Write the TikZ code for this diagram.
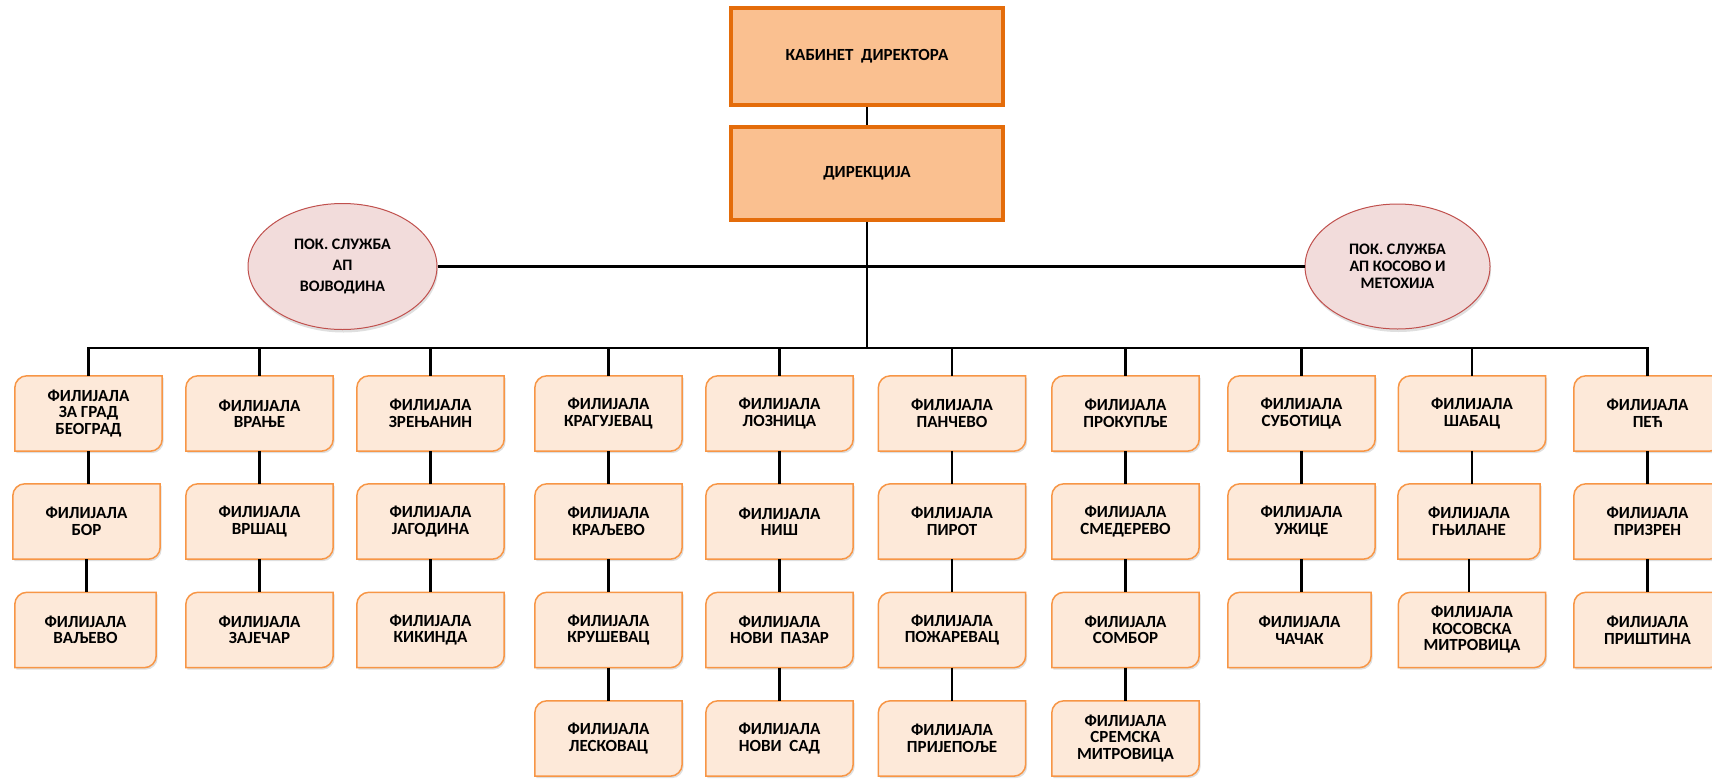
\documentclass[tikz,border=0pt]{standalone}
\usepackage{fontspec}
\setmainfont{Carlito}
\usetikzlibrary{shapes.geometric,shadows,backgrounds}
\definecolor{brfill}{HTML}{FDE9D9}
\definecolor{brdraw}{HTML}{F79646}
\definecolor{topfill}{HTML}{FAC090}
\definecolor{topdraw}{HTML}{E46C0A}
\definecolor{elfill}{HTML}{F2DCDB}
\definecolor{eldraw}{HTML}{C0504D}
\tikzset{
  brnode/.style={rectangle, minimum width=147pt, minimum height=75pt, inner sep=0pt, align=center,
    font=\fontsize{17}{16.5}\selectfont\bfseries},
  brbox/.style={fill=brfill, draw=brdraw, line width=1.5pt,
    drop shadow={shadow xshift=1.5pt, shadow yshift=-2pt, opacity=0.25}},
  topbox/.style={rectangle, fill=topfill, draw=topdraw, line width=3.5pt, minimum width=272pt,
    inner sep=0pt, font=\fontsize{17}{16.5}\selectfont\bfseries},
  ellnode/.style={ellipse, fill=elfill, draw=eldraw, line width=1pt, inner sep=0pt, align=center,
    drop shadow={shadow xshift=1pt, shadow yshift=-3pt, opacity=0.25}},
  conn/.style={line width=2.5pt, black}
}
\newcommand\branch[5][147]{%
  \node[brnode, minimum width=#1pt] (#2) at (#3,-#4) {#5};
  \begin{pgfonlayer}{background}
  \path[brbox] (#2.south west) -- ([yshift=-12pt]#2.north west)
     arc[start angle=180,end angle=90,radius=12pt] -- (#2.north east)
     -- ([yshift=12pt]#2.south east) arc[start angle=0,end angle=-90,radius=12pt] -- cycle;
  \end{pgfonlayer}}
\begin{document}
\begin{tikzpicture}[x=1pt,y=1pt]
\useasboundingbox (0,0) rectangle (1712,-779);
% top
\node[topbox, minimum height=97pt] (kab) at (867,-56.5) {КАБИНЕТ\ \ ДИРЕКТОРА};
\node[topbox, minimum height=93pt] (dir) at (867,-173.5) {ДИРЕКЦИЈА};
% ellipses
\node[ellnode, minimum width=189pt, minimum height=126pt,
  font=\fontsize{16}{21}\selectfont\bfseries] (vo) at (342.5,-266.5) {ПОК. СЛУЖБА\\АП\\ВОЈВОДИНА};
\node[ellnode, minimum width=185pt, minimum height=125pt,
  font=\fontsize{16}{17}\selectfont\bfseries] (km) at (1397.5,-266.5) {ПОК. СЛУЖБА\\АП КОСОВО И\\МЕТОХИЈА};
\coordinate (bus) at (867,-348);
% branches
\def\ra{413.5}\def\rb{521.5}\def\rc{630}\def\rd{738.5}
\branch{c1a}{88.5}{\ra}{ФИЛИЈАЛА\\ЗА ГРАД\\БЕОГРАД}
\branch{c1b}{86.5}{\rb}{ФИЛИЈАЛА\\БОР}
\branch[141]{c1c}{85.5}{\rc}{ФИЛИЈАЛА\\ВАЉЕВО}
\branch{c2a}{259.5}{\ra}{ФИЛИЈАЛА\\ВРАЊЕ}
\branch{c2b}{259.5}{\rb}{ФИЛИЈАЛА\\ВРШАЦ}
\branch{c2c}{259.5}{\rc}{ФИЛИЈАЛА\\ЗАЈЕЧАР}
\branch{c3a}{430.5}{\ra}{ФИЛИЈАЛА\\ЗРЕЊАНИН}
\branch{c3b}{430.5}{\rb}{ФИЛИЈАЛА\\ЈАГОДИНА}
\branch{c3c}{430.5}{\rc}{ФИЛИЈАЛА\\КИКИНДА}
\branch{c4a}{608.5}{\ra}{ФИЛИЈАЛА\\КРАГУЈЕВАЦ}
\branch{c4b}{608.5}{\rb}{ФИЛИЈАЛА\\КРАЉЕВО}
\branch{c4c}{608.5}{\rc}{ФИЛИЈАЛА\\КРУШЕВАЦ}
\branch{c4d}{608.5}{\rd}{ФИЛИЈАЛА\\ЛЕСКОВАЦ}
\branch{c5a}{779.5}{\ra}{ФИЛИЈАЛА\\ЛОЗНИЦА}
\branch{c5b}{779.5}{\rb}{ФИЛИЈАЛА\\НИШ}
\branch{c5c}{779.5}{\rc}{ФИЛИЈАЛА\\НОВИ\ \ ПАЗАР}
\branch{c5d}{779.5}{\rd}{ФИЛИЈАЛА\\НОВИ\ \ САД}
\branch{c6a}{952}{\ra}{ФИЛИЈАЛА\\ПАНЧЕВО}
\branch{c6b}{952}{\rb}{ФИЛИЈАЛА\\ПИРОТ}
\branch{c6c}{952}{\rc}{ФИЛИЈАЛА\\ПОЖАРЕВАЦ}
\branch{c6d}{952}{\rd}{ФИЛИЈАЛА\\ПРИЈЕПОЉЕ}
\branch{c7a}{1125.5}{\ra}{ФИЛИЈАЛА\\ПРОКУПЉЕ}
\branch{c7b}{1125.5}{\rb}{ФИЛИЈАЛА\\СМЕДЕРЕВО}
\branch{c7c}{1125.5}{\rc}{ФИЛИЈАЛА\\СОМБОР}
\branch{c7d}{1125.5}{\rd}{ФИЛИЈАЛА\\СРЕМСКА\\МИТРОВИЦА}
\branch{c8a}{1301.5}{\ra}{ФИЛИЈАЛА\\СУБОТИЦА}
\branch{c8b}{1301.5}{\rb}{ФИЛИЈАЛА\\УЖИЦЕ}
\branch[143]{c8c}{1299.5}{\rc}{ФИЛИЈАЛА\\ЧАЧАК}
\branch{c9a}{1472}{\ra}{ФИЛИЈАЛА\\ШАБАЦ}
\branch[142]{c9b}{1469}{\rb}{ФИЛИЈАЛА\\ГЊИЛАНЕ}
\branch{c9c}{1472}{\rc}{ФИЛИЈАЛА\\КОСОВСКА\\МИТРОВИЦА}
\branch{c10a}{1647.5}{\ra}{ФИЛИЈАЛА\\ПЕЋ}
\branch{c10b}{1647.5}{\rb}{ФИЛИЈАЛА\\ПРИЗРЕН}
\branch{c10c}{1647.5}{\rc}{ФИЛИЈАЛА\\ПРИШТИНА}
% connectors
\draw[conn] (kab.south) -- (dir.north);
\draw[conn] (vo.east) -- (km.west);
\draw[conn] (dir.south) -- (bus);
\draw[conn] (c1a.north) |- (bus) -| (c10a.north);
\foreach \n in {c2a,c3a,c4a,c5a,c6a,c7a,c8a,c9a}
  \draw[conn] (\n.north) -- (\n.north |- bus);
\foreach \a/\b in {c1a/c1b,c1b/c1c,c2a/c2b,c2b/c2c,c3a/c3b,c3b/c3c,c4a/c4b,c4b/c4c,c4c/c4d,
  c5a/c5b,c5b/c5c,c5c/c5d,c6a/c6b,c6b/c6c,c6c/c6d,c7a/c7b,c7b/c7c,c7c/c7d,c8a/c8b,c8b/c8c,
  c9a/c9b,c9b/c9c,c10a/c10b,c10b/c10c}
  \draw[conn] (\a.south) -- (\a.south |- \b.north);
\end{tikzpicture}
\end{document}
